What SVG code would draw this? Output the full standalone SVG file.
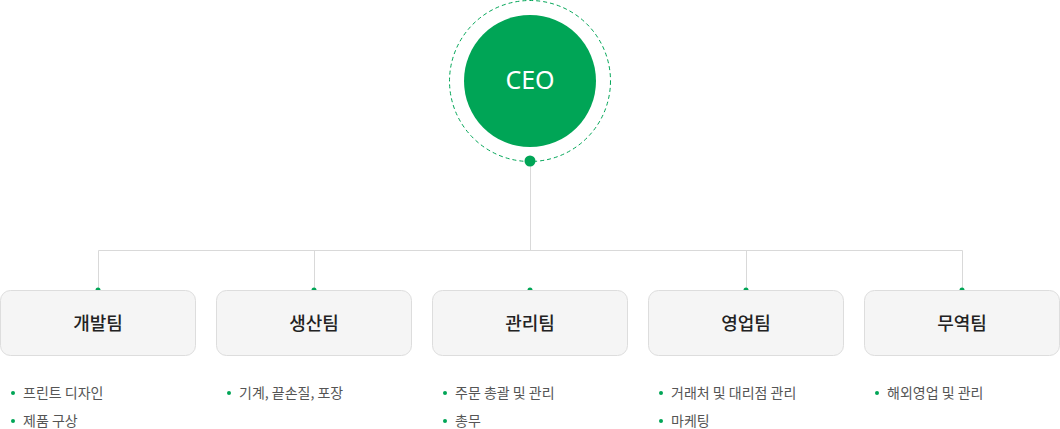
<svg xmlns="http://www.w3.org/2000/svg" width="1060" height="429" viewBox="0 0 1060 429">
<style>
.box{fill:#f5f5f5;stroke:#ddd;stroke-width:1}
.t{font-family:"Noto Sans CJK KR","Noto Sans",sans-serif;font-size:18px;font-weight:500;fill:#222;text-anchor:middle}
.li{font-family:"Noto Sans CJK KR","Noto Sans",sans-serif;font-size:14px;fill:#555}
.g{fill:#00a556}
.ln{stroke:#d9d9d9;stroke-width:1;fill:none}
</style>
<rect width="1060" height="429" fill="#fff"/>
<g id="connectors">
<path class="ln" d="M530.5 161V250.5M98.5 290V250.5H962.5V290M314.5 250.5V290M746.5 250.5V290"/>
<circle class="g" cx="530" cy="161" r="5.5"/>
<circle class="g" cx="98" cy="290" r="2.5"/><circle class="g" cx="314" cy="290" r="2.5"/><circle class="g" cx="530" cy="290" r="2.5"/><circle class="g" cx="746" cy="290" r="2.5"/><circle class="g" cx="962" cy="290" r="2.5"/>
</g>
<g id="ceo">
<circle cx="530" cy="81" r="80.5" fill="none" stroke="#00a556" stroke-width="1" stroke-dasharray="4 3"/>
<circle class="g" cx="530" cy="81" r="66"/>
<text x="530" y="89" text-anchor="middle" font-family="'Noto Sans',sans-serif" font-size="25" fill="#fff">CEO</text>
</g>
<g id="dev">
<rect class="box" x="0.5" y="290.5" width="195" height="65" rx="10"/>
<text class="t" x="98" y="330">개발팀</text>
<circle class="g" cx="13" cy="393" r="2"/><text class="li" x="23" y="398">프린트 디자인</text>
<circle class="g" cx="13" cy="421" r="2"/><text class="li" x="23" y="426">제품 구상</text>
</g>
<g id="prod">
<rect class="box" x="216.5" y="290.5" width="195" height="65" rx="10"/>
<text class="t" x="314" y="330">생산팀</text>
<circle class="g" cx="229" cy="393" r="2"/><text class="li" x="239" y="398">기계, 끝손질, 포장</text>
</g>
<g id="mgmt">
<rect class="box" x="432.5" y="290.5" width="195" height="65" rx="10"/>
<text class="t" x="530" y="330">관리팀</text>
<circle class="g" cx="445" cy="393" r="2"/><text class="li" x="455" y="398">주문 총괄 및 관리</text>
<circle class="g" cx="445" cy="421" r="2"/><text class="li" x="455" y="426">총무</text>
</g>
<g id="sales">
<rect class="box" x="648.5" y="290.5" width="195" height="65" rx="10"/>
<text class="t" x="746" y="330">영업팀</text>
<circle class="g" cx="661" cy="393" r="2"/><text class="li" x="671" y="398">거래처 및 대리점 관리</text>
<circle class="g" cx="661" cy="421" r="2"/><text class="li" x="671" y="426">마케팅</text>
</g>
<g id="trade">
<rect class="box" x="864.5" y="290.5" width="195" height="65" rx="10"/>
<text class="t" x="962" y="330">무역팀</text>
<circle class="g" cx="877" cy="393" r="2"/><text class="li" x="887" y="398">해외영업 및 관리</text>
</g>
</svg>
